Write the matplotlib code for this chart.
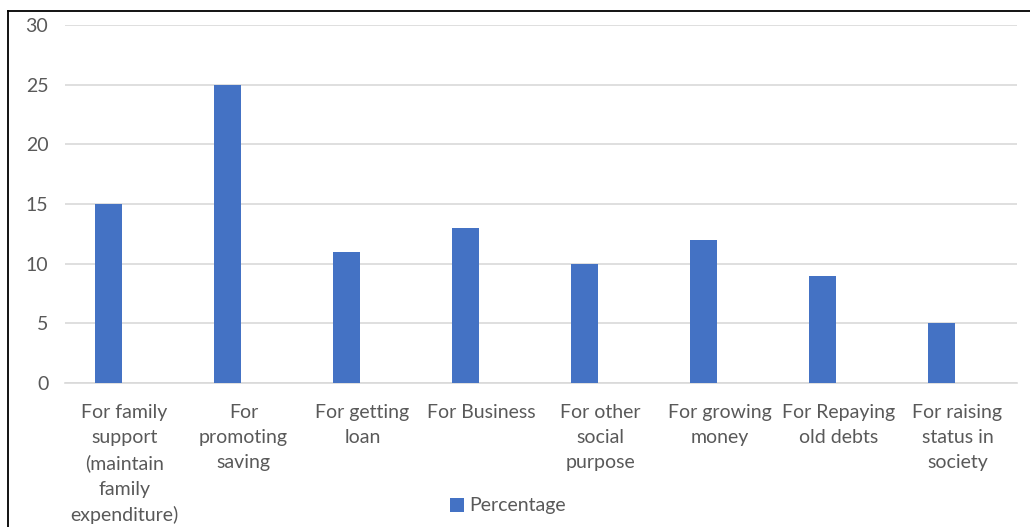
import matplotlib.pyplot as plt
from matplotlib.lines import Line2D
import numpy as np

categories = [
    "For family\nsupport\n(maintain\nfamily\nexpenditure)",
    "For\npromoting\nsaving",
    "For getting\nloan",
    "For Business",
    "For other\nsocial\npurpose",
    "For growing\nmoney",
    "For Repaying\nold debts",
    "For raising\nstatus in\nsociety",
]
percentage = [15, 25, 11, 13, 10, 12, 9, 5]

plt.rcParams['font.family'] = ['Lato', 'DejaVu Sans']
text_color = '#595959'
bar_color = '#4472C4'

fig = plt.figure(figsize=(10.3, 5.27), dpi=100)
ax = fig.add_axes([65 / 1030, 1 - 383 / 527, (1017 - 65) / 1030, (383 - 25) / 527])

x = np.arange(len(categories))
ax.bar(x - 0.133, percentage, width=0.227, color=bar_color, label='Percentage', zorder=3)

ax.set_xlim(-0.5, len(categories) - 0.5)
ax.set_ylim(0, 30)
ax.set_yticks(range(0, 31, 5))
ax.set_xticks(x)
ax.set_xticklabels(categories, fontsize=14, color=text_color, linespacing=1.58, va='top')
ax.tick_params(axis='y', labelsize=14, labelcolor=text_color, length=0, pad=12)
ax.tick_params(axis='x', length=0, pad=15)

ax.grid(axis='y', color='#D9D9D9', linewidth=1.2, zorder=0)
for s in ['top', 'right', 'left']:
    ax.spines[s].set_visible(False)
ax.spines['bottom'].set_color('#D9D9D9')
ax.spines['bottom'].set_linewidth(1.2)

fig.legend(loc='center', bbox_to_anchor=(508 / 1030, 1 - 506 / 527), frameon=False,
           fontsize=14, labelcolor=text_color, handlelength=0.7, handleheight=0.7,
           handletextpad=0.3)

# outer border (left and top edges of the chart frame)
fig.add_artist(Line2D([8 / 1030, 8 / 1030], [0, 1 - 11 / 527], color='black', linewidth=1.3,
                      transform=fig.transFigure))
fig.add_artist(Line2D([8 / 1030, 1], [1 - 11 / 527, 1 - 11 / 527], color='black', linewidth=1.3,
                      transform=fig.transFigure))

fig.savefig("out.png", dpi=100)
